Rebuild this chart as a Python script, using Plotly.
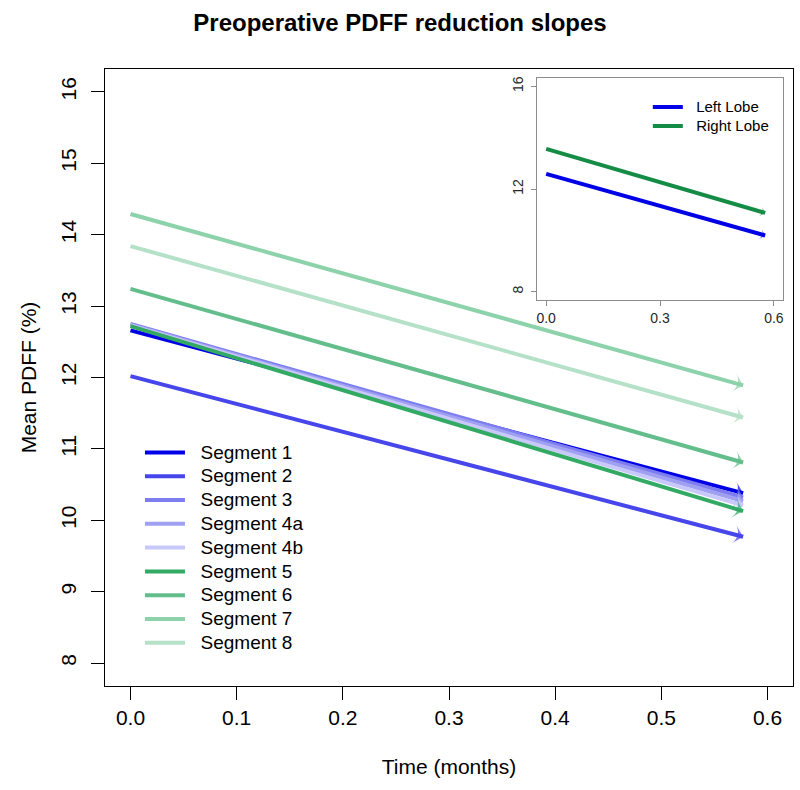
import plotly.graph_objects as go

# ---- data ----
TIME = [0.0, 0.577]
SEGMENTS = ["Segment 1", "Segment 2", "Segment 3", "Segment 4a", "Segment 4b",
            "Segment 5", "Segment 6", "Segment 7", "Segment 8"]
SEG_START = [12.66, 12.02, 12.75, 12.74, 12.73, 12.72, 13.24, 14.29, 13.84]
SEG_END = [10.38, 9.77, 10.32, 10.27, 10.21, 10.13, 10.81, 11.89, 11.44]
SEG_COLORS = ["rgb(0,0,230)", "rgb(70,70,235)", "rgb(125,125,240)", "rgb(160,160,242)",
              "rgb(200,200,250)", "rgb(50,170,100)", "rgb(100,190,140)",
              "rgb(140,210,170)", "rgb(180,225,200)"]

LOBES = ["Left Lobe", "Right Lobe"]
LOBE_START = [12.59, 13.56]
LOBE_END = [10.19, 11.07]
LOBE_COLORS = ["rgb(0,0,230)", "rgb(20,140,70)"]

X_TICKS = [0.0, 0.1, 0.2, 0.3, 0.4, 0.5, 0.6]
Y_TICKS = [8, 9, 10, 11, 12, 13, 14, 15, 16]
INSET_X_TICKS = [0.0, 0.3, 0.6]
INSET_Y_TICKS = [8, 12, 16]

FONT = "Liberation Sans, Arial, Helvetica, sans-serif"
NB = "\u00a0"

fig = go.Figure()

for name, s, e, c in zip(SEGMENTS, SEG_START, SEG_END, SEG_COLORS):
    fig.add_trace(go.Scatter(x=TIME, y=[s, e], mode="lines",
                             name=f"<span style='font-size:19px'>{NB}{NB}{name}</span>",
                             line=dict(color=c, width=4), legend="legend"))
    fig.add_trace(go.Scatter(x=TIME, y=[s, e], mode="markers", showlegend=False,
                             marker=dict(symbol="arrow-wide", size=[0, 14], color=c,
                                         angleref="previous", line=dict(width=0)),
                             hoverinfo="skip"))

for name, s, e, c in zip(LOBES, LOBE_START, LOBE_END, LOBE_COLORS):
    fig.add_trace(go.Scatter(x=TIME, y=[s, e], mode="lines",
                             name=f"<span style='font-size:15px'>{NB}{NB}{name}</span>",
                             line=dict(color=c, width=4), xaxis="x2", yaxis="y2",
                             legend="legend2"))
    fig.add_trace(go.Scatter(x=TIME, y=[s, e], mode="markers", showlegend=False,
                             xaxis="x2", yaxis="y2",
                             marker=dict(symbol="arrow-wide", size=[0, 7], color=c,
                                         angleref="previous", line=dict(width=0)),
                             hoverinfo="skip"))

fig.update_layout(
    width=800, height=790,
    margin=dict(l=105, r=7, t=69, b=104),
    paper_bgcolor="white", plot_bgcolor="white",
    font=dict(family=FONT, color="black", size=20),
    title=dict(text="<b>Preoperative PDFF reduction slopes</b>",
               x=0.5, xanchor="center", y=1 - 23 / 790, yanchor="middle",
               yref="container", font=dict(size=24, family=FONT), automargin=False),
    xaxis=dict(range=[-0.024, 0.624], tickvals=X_TICKS, ticktext=[f"{v:.1f}" for v in X_TICKS],
               showgrid=False, zeroline=False, showline=True, mirror=True,
               linecolor="black", linewidth=1, ticks="outside", ticklen=13,
               tickcolor="black", tickfont=dict(size=21), automargin=False,
               title=dict(text="Time (months)", font=dict(size=21), standoff=31)),
    yaxis=dict(range=[7.68, 16.32], tickvals=Y_TICKS, showgrid=False, zeroline=False,
               showline=True, mirror=True, linecolor="black", linewidth=1,
               ticks="outside", ticklen=13, tickcolor="black", tickangle=-90,
               tickfont=dict(size=21), automargin=False, ticklabelstandoff=7,
               title=dict(text="Mean PDFF (%)", font=dict(size=21), standoff=14)),
    xaxis2=dict(domain=[0.628, 0.9855], anchor="y2", range=[-0.024, 0.624],
                tickvals=INSET_X_TICKS, ticktext=[f"{v:.1f}" for v in INSET_X_TICKS],
                showgrid=False, zeroline=False, showline=True, mirror=True,
                linecolor="rgb(140,140,140)", linewidth=1, ticks="outside", ticklen=5,
                tickcolor="rgb(140,140,140)", automargin=False,
                tickfont=dict(size=14, color="rgb(40,40,40)")),
    yaxis2=dict(domain=[0.6256, 0.9854], anchor="x2", range=[7.68, 16.32],
                tickvals=INSET_Y_TICKS, showgrid=False, zeroline=False, showline=True,
                mirror=True, linecolor="rgb(140,140,140)", linewidth=1, ticks="outside",
                ticklen=5, tickcolor="rgb(140,140,140)", tickangle=-90, automargin=False,
                ticklabelstandoff=2, tickfont=dict(size=14, color="rgb(40,40,40)")),
    legend=dict(x=0.0508, y=0.406, xanchor="left", yanchor="top",
                bgcolor="rgba(0,0,0,0)", borderwidth=0,
                font=dict(size=16, family=FONT), itemwidth=40, tracegroupgap=0),
    legend2=dict(x=0.789, y=0.962, xanchor="left", yanchor="top",
                 bgcolor="rgba(0,0,0,0)", borderwidth=0,
                 font=dict(size=12, family=FONT), itemwidth=30),
    showlegend=True,
)

fig.write_html("out.html", config={"displayModeBar": False},
               post_script="document.body.style.margin='0';")
